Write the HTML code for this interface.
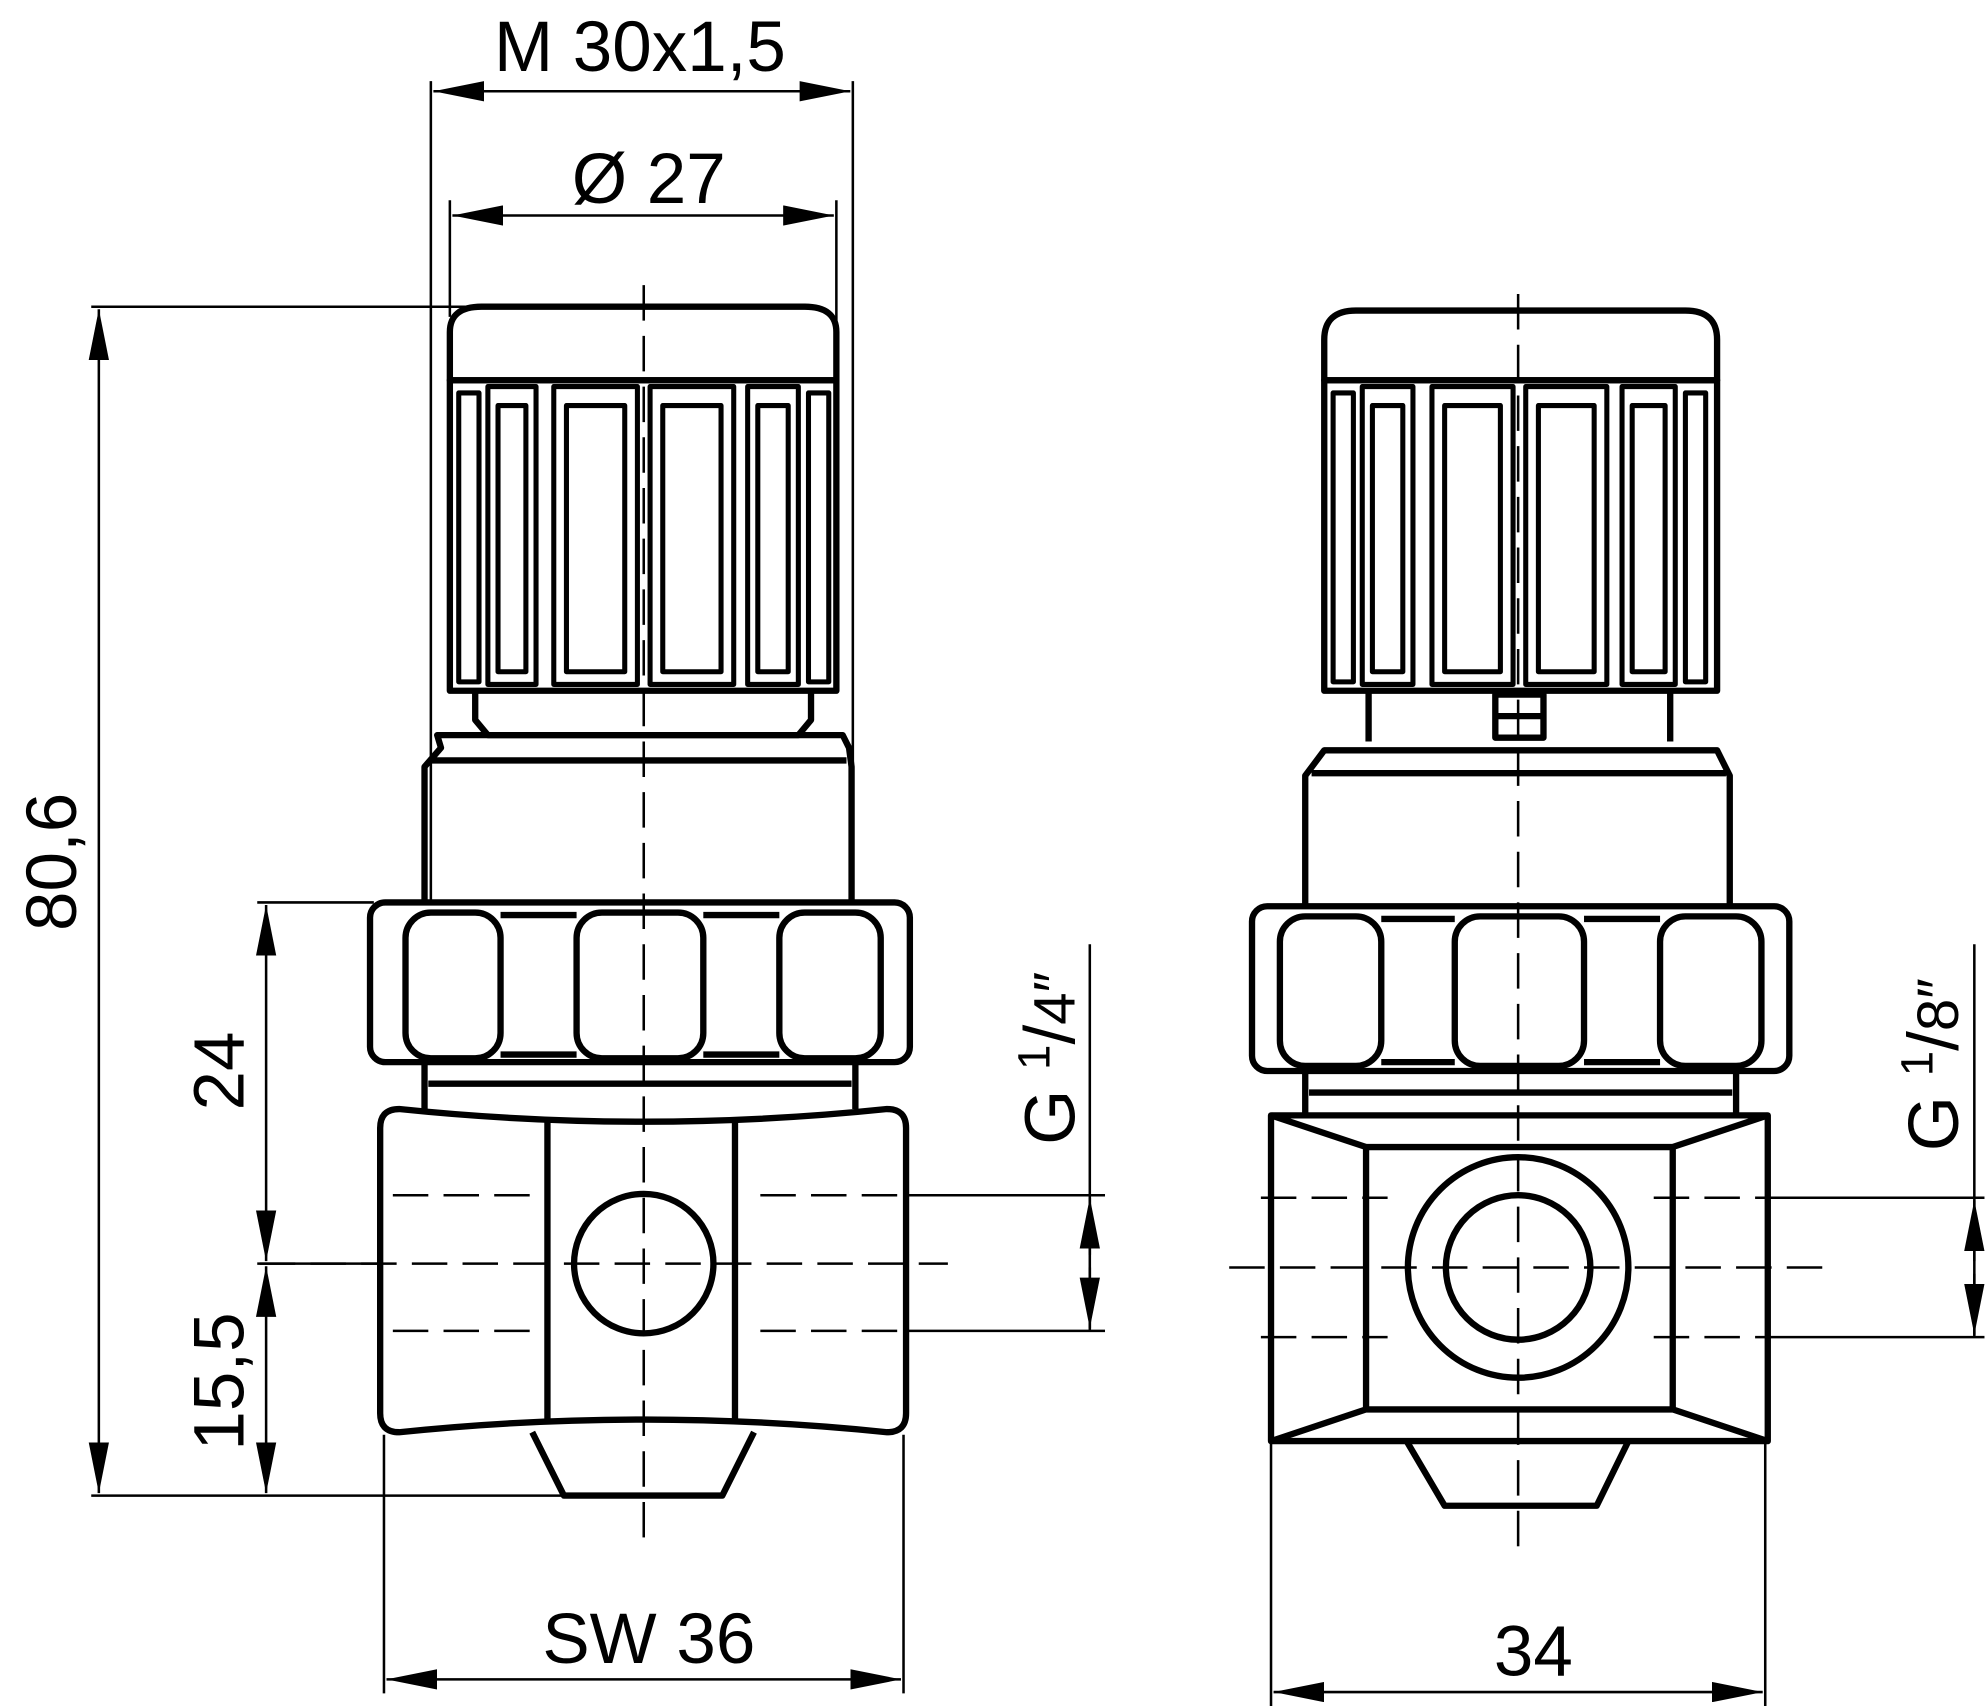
<!DOCTYPE html>
<html><head><meta charset="utf-8"><style>
html,body{margin:0;padding:0;background:#fff}
svg{display:block}
text{font-family:"Liberation Sans",sans-serif;fill:#000}
</style></head><body>
<svg width="1987" height="1706" viewBox="0 0 1568 1346" preserveAspectRatio="none" xmlns="http://www.w3.org/2000/svg">
<defs>
<marker id="a" viewBox="0 0 20 8" refX="20" refY="4" markerWidth="40" markerHeight="16" markerUnits="userSpaceOnUse" orient="auto-start-reverse"><path d="M0,0 L20,4 L0,8 Z" fill="#000"/></marker>
</defs>
<g fill="none" stroke="#000" stroke-width="2">
<line x1="340" y1="64" x2="340" y2="712"/><line x1="673" y1="64" x2="673" y2="712"/>
<line x1="342" y1="72" x2="671" y2="72" marker-start="url(#a)" marker-end="url(#a)"/>
<line x1="355" y1="158" x2="355" y2="250"/><line x1="660" y1="158" x2="660" y2="260"/>
<line x1="357" y1="170" x2="658" y2="170" marker-start="url(#a)" marker-end="url(#a)"/>
<line x1="72" y1="242" x2="380" y2="242"/><line x1="72" y1="1180" x2="450" y2="1180"/>
<line x1="78" y1="244" x2="78" y2="1178" marker-start="url(#a)" marker-end="url(#a)"/>
<line x1="203" y1="712" x2="295" y2="712"/><line x1="203" y1="997" x2="300" y2="997"/>
<line x1="210" y1="714" x2="210" y2="995" marker-start="url(#a)" marker-end="url(#a)"/>
<line x1="210" y1="999" x2="210" y2="1178" marker-start="url(#a)" marker-end="url(#a)"/>
<line x1="303" y1="1132" x2="303" y2="1336"/><line x1="713" y1="1132" x2="713" y2="1336"/>
<line x1="305" y1="1325" x2="711" y2="1325" marker-start="url(#a)" marker-end="url(#a)"/>
<line x1="715" y1="943" x2="872" y2="943"/><line x1="715" y1="1050" x2="872" y2="1050"/>
<line x1="860" y1="745" x2="860" y2="1050"/>
<line x1="860" y1="990" x2="860" y2="945" marker-end="url(#a)"/>
<line x1="860" y1="1000" x2="860" y2="1048" marker-end="url(#a)"/>
<line x1="1003" y1="1137" x2="1003" y2="1346"/><line x1="1393" y1="1137" x2="1393" y2="1346"/>
<line x1="1005" y1="1335" x2="1391" y2="1335" marker-start="url(#a)" marker-end="url(#a)"/>
<line x1="1395" y1="945" x2="1566" y2="945"/><line x1="1395" y1="1055" x2="1566" y2="1055"/>
<line x1="1558" y1="745" x2="1558" y2="1055"/>
<line x1="1558" y1="995" x2="1558" y2="947" marker-end="url(#a)"/>
<line x1="1558" y1="1005" x2="1558" y2="1053" marker-end="url(#a)"/>
<g stroke-dasharray="28,12">
<line x1="508" y1="225" x2="508" y2="1215"/>
<line x1="1198" y1="232" x2="1198" y2="1222"/>
<line x1="310" y1="943" x2="420" y2="943"/><line x1="600" y1="943" x2="715" y2="943"/>
<line x1="205" y1="997" x2="748" y2="997"/>
<line x1="310" y1="1050" x2="420" y2="1050"/><line x1="600" y1="1050" x2="715" y2="1050"/>
<line x1="995" y1="945" x2="1095" y2="945"/><line x1="1305" y1="945" x2="1395" y2="945"/>
<line x1="970" y1="1000" x2="1440" y2="1000"/>
<line x1="995" y1="1055" x2="1095" y2="1055"/><line x1="1305" y1="1055" x2="1395" y2="1055"/>
</g>
</g>
<g fill="none" stroke="#000" stroke-width="5" stroke-linejoin="round">
<path d="M355,300 L355,262 Q355,242 380,242 L635,242 Q660,242 660,262 L660,300 Z"/>
<rect x="355" y="300" width="305" height="245"/>
<g stroke-width="4">
<rect x="362" y="310" width="16" height="228"/><rect x="385" y="305" width="38" height="235"/><rect x="393" y="320" width="22" height="210"/>
<rect x="437" y="305" width="66" height="235"/><rect x="447" y="320" width="46" height="210"/>
<rect x="513" y="305" width="66" height="235"/><rect x="523" y="320" width="46" height="210"/>
<rect x="590" y="305" width="40" height="235"/><rect x="598" y="320" width="24" height="210"/>
<rect x="638" y="310" width="16" height="228"/>
</g>
<path d="M375,545 L375,568 L385,580 L630,580 L640,568 L640,545"/>
<path d="M335,710 L335,605 L348,590 L345,580 L665,580 L670,590 L672,605 L672,710"/>
<line x1="340" y1="600" x2="668" y2="600"/>
<rect x="292" y="712" width="426" height="126" rx="12"/>
<rect x="320" y="720" width="75" height="115" rx="20"/>
<rect x="455" y="720" width="100" height="115" rx="20"/>
<rect x="615" y="720" width="80" height="115" rx="20"/>
<line x1="395" y1="722" x2="455" y2="722"/><line x1="555" y1="722" x2="615" y2="722"/>
<line x1="395" y1="832" x2="455" y2="832"/><line x1="555" y1="832" x2="615" y2="832"/>
<path d="M335,838 L335,875 M675,838 L675,875 M338,855 L672,855"/>
<path d="M300,890 Q300,875 315,875 Q508,895 700,875 Q715,875 715,890 L715,1115 Q715,1130 700,1130 Q508,1110 315,1130 Q300,1130 300,1115 Z"/>
<line x1="432" y1="885" x2="432" y2="1122"/><line x1="580" y1="885" x2="580" y2="1122"/>
<circle cx="508" cy="997" r="55"/>
<path d="M420,1130 L445,1180 L570,1180 L595,1130"/>
<path d="M1045,300 L1045,268 Q1045,245 1070,245 L1330,245 Q1355,245 1355,268 L1355,300 Z"/>
<rect x="1045" y="300" width="310" height="245"/>
<g stroke-width="4">
<rect x="1052" y="310" width="16" height="228"/><rect x="1075" y="305" width="40" height="235"/><rect x="1083" y="320" width="24" height="210"/>
<rect x="1130" y="305" width="64" height="235"/><rect x="1140" y="320" width="44" height="210"/>
<rect x="1204" y="305" width="64" height="235"/><rect x="1214" y="320" width="44" height="210"/>
<rect x="1280" y="305" width="42" height="235"/><rect x="1288" y="320" width="26" height="210"/>
<rect x="1330" y="310" width="16" height="228"/>
</g>
<path d="M1080,545 L1080,585 M1318,545 L1318,585"/>
<rect x="1180" y="548" width="38" height="34"/><line x1="1180" y1="565" x2="1218" y2="565"/>
<path d="M1030,715 L1030,612 L1045,592 L1355,592 L1365,612 L1365,715"/>
<line x1="1035" y1="610" x2="1362" y2="610"/>
<rect x="988" y="715" width="424" height="130" rx="12"/>
<rect x="1010" y="723" width="80" height="118" rx="20"/>
<rect x="1148" y="723" width="102" height="118" rx="20"/>
<rect x="1310" y="723" width="80" height="118" rx="20"/>
<line x1="1090" y1="725" x2="1148" y2="725"/><line x1="1250" y1="725" x2="1310" y2="725"/>
<line x1="1090" y1="838" x2="1148" y2="838"/><line x1="1250" y1="838" x2="1310" y2="838"/>
<path d="M1030,845 L1030,880 M1370,845 L1370,880 M1033,862 L1367,862"/>
<rect x="1003" y="880" width="392" height="257"/>
<path d="M1003,880 L1078,905 L1320,905 L1395,880 M1003,1137 L1078,1112 L1320,1112 L1395,1137 M1078,905 L1078,1112 M1320,905 L1320,1112"/>
<circle cx="1198" cy="1000" r="87"/><circle cx="1198" cy="1000" r="57"/>
<path d="M1110,1137 L1140,1188 L1260,1188 L1285,1137"/>
</g>
<g font-size="56">
<text x="505" y="56" text-anchor="middle">M 30x1,5</text>
<text x="512" y="160" text-anchor="middle">Ø 27</text>
<text x="512" y="1312" text-anchor="middle">SW 36</text>
<text x="1210" y="1322" text-anchor="middle">34</text>
<text transform="translate(60,680) rotate(-90)" text-anchor="middle">80,6</text>
<text transform="translate(192,845) rotate(-90)" text-anchor="middle">24</text>
<text transform="translate(192,1090) rotate(-90)" text-anchor="middle">15,5</text>
<text transform="translate(848,835) rotate(-90)" text-anchor="middle">G <tspan font-size="36" dy="-20">1</tspan><tspan dy="20">/</tspan><tspan font-size="46">4″</tspan></text>
<text transform="translate(1545,840) rotate(-90)" text-anchor="middle">G <tspan font-size="36" dy="-20">1</tspan><tspan dy="20">/</tspan><tspan font-size="46">8″</tspan></text>
</g>
</svg>
</body></html>
